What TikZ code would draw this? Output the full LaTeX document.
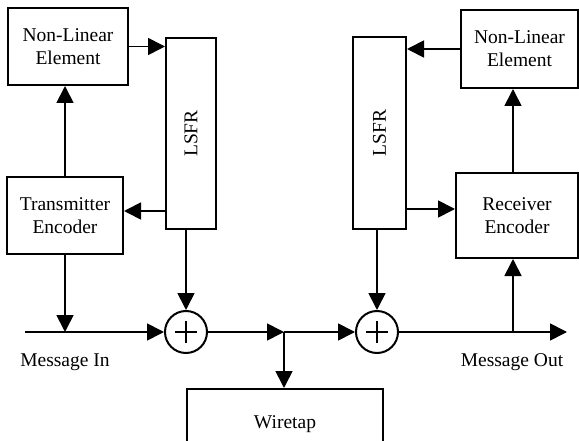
\documentclass[tikz,border=0pt]{standalone}
\usepackage{fontspec}
\setmainfont{Liberation Serif}
\usepackage{graphicx}
\usetikzlibrary{arrows.meta,calc}
\begin{document}
\begin{tikzpicture}[x=1pt,y=-1pt,
  txt/.style={font=\fontsize{19.5}{23}\selectfont},
  box/.style={draw, line width=2pt, align=center, inner sep=0pt, txt},
  xor/.style={draw, circle, line width=2pt, minimum size=42pt, inner sep=0pt},
  arr/.style={line width=1.7pt, -{Triangle[length=17pt,width=17pt]}},
  plusline/.style={line width=2.6pt}]
\clip (0,0) rectangle (579,441);
\fill[white] (0,0) rectangle (579,441);
% boxes
\node[box, minimum width=120pt, minimum height=77pt] (nle1) at (68,46.5) {Non-Linear\\Element};
\node[box, minimum width=50pt, minimum height=191pt] (lsfr1) at (191,133.5) {\rotatebox{90}{LSFR}};
\node[box, minimum width=116pt, minimum height=77pt] (tx) at (65,215.5) {Transmitter\\Encoder};
\node[box, minimum width=53pt, minimum height=192pt] (lsfr2) at (379.5,133) {\rotatebox{90}{LSFR}};
\node[box, minimum width=117pt, minimum height=78pt] (nle2) at (519.5,49) {Non-Linear\\Element};
\node[box, minimum width=122pt, minimum height=85pt] (rx) at (517,215.5) {Receiver\\Encoder};
\node[box, minimum width=196pt, minimum height=70pt, anchor=north] (wt) at (285,388) {Wiretap};
% xor circles
\node[xor] (c1) at (186,332) {};
\node[xor] (c2) at (377,332) {};
\draw[plusline] ($(c1)+(-11,0)$) -- ($(c1)+(11,0)$);
\draw[plusline] ($(c1)+(0,-11)$) -- ($(c1)+(0,11)$);
\draw[plusline] ($(c2)+(-11,0)$) -- ($(c2)+(11,0)$);
\draw[plusline] ($(c2)+(0,-11)$) -- ($(c2)+(0,11)$);
% coordinates
\coordinate (min) at (25,332);
\coordinate (mout) at (567,332);
\coordinate (jn) at (284,332);
\coordinate (tout) at (513,332);
\coordinate (t1) at ($(tx.east)+(0,-4.5)$);
\coordinate (r1) at ($(rx.west)+(0,-6.5)$);
% connectors
\draw[arr] (nle1.east) -- (nle1.east -| lsfr1.west);
\draw[arr] (t1 -| lsfr1.west) -- (t1);
\draw[arr] (tx.north) -- (tx.north |- nle1.south);
\draw[arr] (tx.south) -- (tx.south |- c1.west);
\draw[arr] (min) -- (c1.west);
\draw[arr] (lsfr1.south -| c1.north) -- (c1.north);
\draw[arr] (c1.east) -- (jn);
\draw[arr] (jn) -- (c2.west);
\draw[arr] (jn) -- (jn |- wt.north);
\draw[arr] (lsfr2.south -| c2.north) -- (c2.north);
\draw[arr] (c2.east) -- (mout);
\draw[arr] (tout) -- (tout |- rx.south);
\draw[arr] (tout |- rx.north) -- (tout |- nle2.south);
\draw[arr] (nle2.west) -- (nle2.west -| lsfr2.east);
\draw[arr] (r1 -| lsfr2.east) -- (r1);
% labels
\node[txt] (lin) at (65,362) {Message In};
\node[txt] (lout) at (512,362) {Message Out};
\end{tikzpicture}
\end{document}
